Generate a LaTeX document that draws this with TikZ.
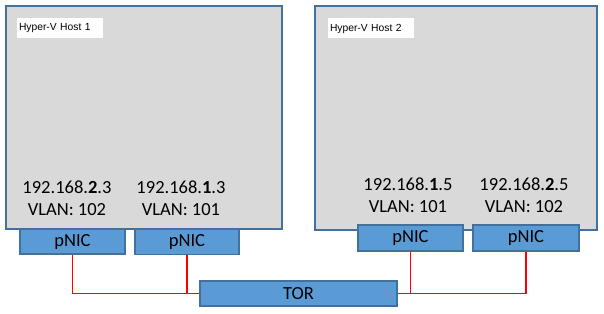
\documentclass[tikz,border=0pt]{standalone}
\usepackage{fontspec}
\setmainfont{Carlito}
\newfontfamily\labelfont{Liberation Sans}
\definecolor{hostfill}{HTML}{D9D9D9}
\definecolor{hostline}{HTML}{41719C}
\definecolor{nicfill}{HTML}{5B9BD5}
\definecolor{wire}{HTML}{FF0000}
\begin{document}
\begin{tikzpicture}[x=1pt,y=-1pt,
  host/.style={draw=hostline,line width=2.2pt,fill=hostfill,rectangle,inner sep=0pt},
  hostlabel/.style={fill=white,rectangle,inner sep=0pt,font=\labelfont\fontsize{10.3}{12}\selectfont,minimum width=86pt,minimum height=20pt,text width=82pt,align=left},
  nic/.style={draw=hostline,line width=1.3pt,fill=nicfill,rectangle,inner sep=0pt,font=\fontsize{18.5}{20}\selectfont,minimum height=25pt},
  addr/.style={inner sep=0pt,font=\fontsize{18.5}{20}\selectfont},
  link/.style={draw=wire,line width=1.2pt}]
\useasboundingbox (0,0) rectangle (604,313);

% hosts
\node[host,minimum width=276pt,minimum height=223pt] (host1) at (144,117.5) {};
\node[host,minimum width=282pt,minimum height=224pt] (host2) at (456,118) {};
\node[hostlabel] (lbl1) at (60,28) {Hyper-V Host 1};
\node[hostlabel] (lbl2) at (371,28.5) {Hyper-V Host 2};

% addresses
\node[addr] (ip1) at (67,187) {192.168.\textbf{2}.3};
\node[addr] (vl1) at (67,210) {VLAN: 102};
\node[addr] (ip2) at (181,187) {192.168.\textbf{1}.3};
\node[addr] (vl2) at (181,210) {VLAN: 101};
\node[addr] (ip3) at (408,184) {192.168.\textbf{1}.5};
\node[addr] (vl3) at (408,207) {VLAN: 101};
\node[addr] (ip4) at (524,184) {192.168.\textbf{2}.5};
\node[addr] (vl4) at (524,207) {VLAN: 102};

% physical NICs and switch
\node[nic,minimum width=105pt] (nic1) at (72.5,241.5) {pNIC};
\node[nic,minimum width=104pt] (nic2) at (187,242) {pNIC};
\node[nic,minimum width=105pt,minimum height=26pt] (nic3) at (410.5,238) {pNIC};
\node[nic,minimum width=106pt,minimum height=26pt] (nic4) at (526,238) {pNIC};
\node[nic,minimum width=197pt] (tor) at (298.5,293.5) {TOR};

% cabling
\draw[link] (nic1.south) |- (tor.west);
\draw[link] (nic2.south) |- (tor.west);
\draw[link] (nic3.south) |- (tor.east);
\draw[link] (nic4.south) |- (tor.east);
\end{tikzpicture}
\end{document}
